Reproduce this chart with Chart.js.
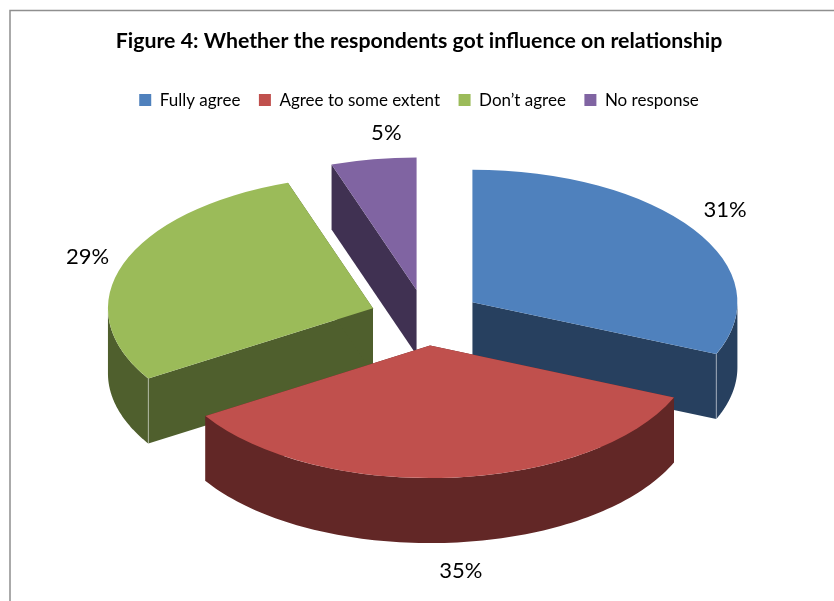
<!DOCTYPE html>
<html>
<head>
<meta charset="utf-8">
<title>Figure 4</title>
<style>
  html, body { margin: 0; background: #fff; }
  canvas { display: block; }
</style>
<script src="https://cdn.jsdelivr.net/npm/chart.js@4"></script>
</head>
<body>
<canvas id="pie" width="834" height="601"></canvas>
<script>
const categories = ['Fully agree', 'Agree to some extent', 'Don\u2019t agree', 'No response'];
const percents = [31.4, 34.7, 28.7, 5.2];
const topColors = ['#4F81BD', '#C0504D', '#9BBB59', '#8064A2'];
const wallColors = ['#27405F', '#622726', '#4F5F2D', '#403152'];
const paintOrder = [3, 2, 0, 1];

const centerX = 425.7;
const centerY = 317.7;
const squash = 0.5;
const depth = 65;
const explode = 56;
const labelNudge = [[0, -3], [7, -2], [0, 3], [19, 3]];

function edgePoint(mid, angle, r, drop) {
  return [
    centerX + explode * Math.cos(mid) + r * Math.cos(angle),
    centerY + squash * (explode * Math.sin(mid) + r * Math.sin(angle)) + drop
  ];
}

function fillPoly(ctx, pts, color) {
  ctx.beginPath();
  pts.forEach((p, i) => i ? ctx.lineTo(p[0], p[1]) : ctx.moveTo(p[0], p[1]));
  ctx.closePath();
  ctx.fillStyle = color;
  ctx.fill();
}

function drawSlice(ctx, arc, color) {
  const mid = (arc.startAngle + arc.endAngle) / 2;
  const r = arc.outerRadius;
  const apex = edgePoint(mid, 0, 0, 0);
  const apexLow = [apex[0], apex[1] + depth];

  // flat cut faces
  [arc.startAngle, arc.endAngle].forEach(a => {
    fillPoly(ctx, [apex, edgePoint(mid, a, r, 0), edgePoint(mid, a, r, depth), apexLow], color);
  });

  // curved rim, only the front half can be seen
  const from = Math.max(arc.startAngle, 0);
  const to = Math.min(arc.endAngle, Math.PI);
  if (to > from) {
    const upper = [];
    const lower = [];
    for (let i = 0; i <= 90; i++) {
      const a = from + (to - from) * i / 90;
      upper.push(edgePoint(mid, a, r, 0));
      lower.unshift(edgePoint(mid, a, r, depth));
    }
    fillPoly(ctx, upper.concat(lower), color);

    // thin light seam where rim meets a cut face
    const seam = [arc.startAngle, arc.endAngle].find(a => a > 0 && a < Math.PI && (a === from || a === to) && Math.cos(a) !== 0 && (a === to ? Math.cos(a) > 0 : Math.cos(a) < 0));
    if (seam !== undefined) {
      const s0 = edgePoint(mid, seam, r, 0);
      const s1 = edgePoint(mid, seam, r, depth);
      ctx.strokeStyle = 'rgba(255,255,255,0.45)';
      ctx.lineWidth = 1;
      ctx.beginPath();
      ctx.moveTo(s0[0], s0[1]);
      ctx.lineTo(s1[0], s1[1]);
      ctx.stroke();
    }
  }

  // top face goes through the library's own arc element
  ctx.save();
  ctx.translate(centerX + explode * Math.cos(mid) - arc.x, centerY + squash * explode * Math.sin(mid));
  ctx.scale(1, squash);
  ctx.translate(0, -arc.y);
  arc.draw(ctx);
  ctx.restore();
}

const tiltedPie = {
  id: 'tiltedPie',
  beforeDraw(chart) {
    const { ctx, width, height } = chart;
    ctx.save();
    ctx.strokeStyle = '#8f8f8f';
    ctx.lineWidth = 1.5;
    ctx.beginPath();
    ctx.moveTo(10, height + 2);
    ctx.lineTo(10, 10.5);
    ctx.lineTo(width + 2, 10.5);
    ctx.stroke();
    ctx.restore();
  },
  beforeDatasetsDraw(chart) {
    const { ctx } = chart;
    const arcs = chart.getDatasetMeta(0).data;
    paintOrder.forEach(i => drawSlice(ctx, arcs[i], wallColors[i]));

    ctx.save();
    ctx.fillStyle = '#000';
    ctx.font = '22px Lato';
    ctx.textAlign = 'center';
    ctx.textBaseline = 'middle';
    arcs.forEach((arc, i) => {
      const mid = (arc.startAngle + arc.endAngle) / 2;
      const p = edgePoint(mid, mid, arc.outerRadius, Math.sin(mid) > 0 ? depth : 0);
      const x = p[0] + 38 * Math.cos(mid) + labelNudge[i][0];
      const y = p[1] + 30 * Math.sin(mid) + labelNudge[i][1];
      ctx.fillText(Math.round(percents[i]) + '%', x, y);
    });
    ctx.restore();
    return false;
  }
};

new Chart(document.getElementById('pie'), {
  type: 'pie',
  data: {
    labels: categories,
    datasets: [{
      data: percents,
      backgroundColor: topColors,
      borderWidth: 0,
      radius: 265
    }]
  },
  options: {
    responsive: false,
    animation: false,
    layout: { padding: { left: 4 } },
    plugins: {
      tooltip: { enabled: false },
      title: {
        display: true,
        text: 'Figure 4: Whether the respondents got influence on relationship',
        color: '#000',
        font: { family: 'Lato', size: 21.3, weight: 'bold' },
        padding: { top: 28.5, bottom: 19 }
      },
      legend: {
        position: 'top',
        labels: {
          color: '#000',
          font: { family: 'Lato', size: 17 },
          boxWidth: 12,
          boxHeight: 12,
          padding: 18.5
        }
      }
    }
  },
  plugins: [tiltedPie]
});
</script>
</body>
</html>
